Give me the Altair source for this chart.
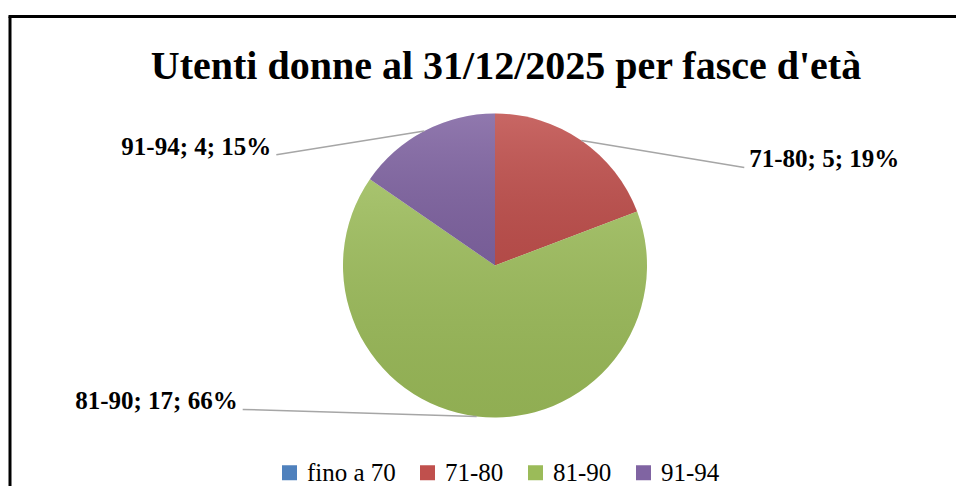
import altair as alt
import pandas as pd

# ---- data ----
categories = ["fino a 70", "71-80", "81-90", "91-94"]
values = [0, 5, 17, 4]
percents = [0, 19, 66, 15]
colors = ["#4F81BD", "#C0504D", "#9BBB59", "#8064A2"]
title_text = "Utenti donne al 31/12/2025 per fasce d'età"

# ---- layout ----
W, H = 948, 478
CX, CY, R = 487, 257.5, 152
FONT = "Liberation Serif"

df = pd.DataFrame({
    "cat": categories,
    "value": values,
    "pct": percents,
    "idx": list(range(len(categories))),
})
df["label"] = [f"{c}; {v}; {p}%" for c, v, p in zip(categories, values, percents)]

xs = alt.Scale(domain=[-CX / R, (W - CX) / R], nice=False, zero=False)
ys = alt.Scale(domain=[-(H - CY) / R, CY / R], nice=False, zero=False)

base = (
    alt.Chart(df)
    .transform_window(cum="sum(value)", sort=[alt.SortField("idx")], frame=[None, 0])
    .transform_joinaggregate(total="sum(value)")
    .transform_calculate(
        a0="2*PI*(datum.cum - datum.value)/datum.total",
        a1="2*PI*datum.cum/datum.total",
        zero="0",
    )
    .transform_calculate(am="(datum.a0 + datum.a1)/2")
    .transform_calculate(ex="sin(datum.am)", ey="cos(datum.am)")
    .transform_calculate(
        lx="(datum.ex < 0 ? -1.66 + 0.25*max(datum.ey, 0) : 1.64)",
        ly="datum.ey - 0.38*datum.ey*abs(datum.ex)",
    )
)

pie = base.mark_arc(radius=R).encode(
    x=alt.X("zero:Q", scale=xs, axis=None),
    y=alt.Y("zero:Q", scale=ys, axis=None),
    theta=alt.Theta("a0:Q", scale=None),
    theta2="a1:Q",
    color=alt.Color(
        "cat:N",
        scale=alt.Scale(domain=categories, range=colors),
        title=None,
        legend=alt.Legend(
            orient="none",
            direction="horizontal",
            legendX=269,
            legendY=452,
            symbolType="square",
            symbolSize=225,
            symbolStrokeWidth=0,
            labelFont=FONT,
            labelFontSize=25,
            labelColor="black",
            labelOffset=5,
            columnPadding=19,
            padding=0,
        ),
    ),
)

shade = base.mark_arc(
    radius=R,
    fill=alt.LinearGradient(
        gradient="linear",
        x1=0, y1=0, x2=0, y2=1,
        stops=[
            alt.GradientStop(offset=0, color="rgba(255,255,255,0.13)"),
            alt.GradientStop(offset=1, color="rgba(0,0,0,0.07)"),
        ],
    ),
).encode(
    x=alt.X("zero:Q", scale=xs, axis=None),
    y=alt.Y("zero:Q", scale=ys, axis=None),
    theta=alt.Theta("a0:Q", scale=None),
    theta2="a1:Q",
)

shown = base.transform_filter("datum.value > 0")

leaders = shown.mark_rule(color="#A6A6A6", strokeWidth=1.5).encode(
    x=alt.X("ex:Q", scale=xs, axis=None),
    y=alt.Y("ey:Q", scale=ys, axis=None),
    x2="lx:Q",
    y2="ly:Q",
)

text_style = dict(font=FONT, fontSize=25, fontWeight="bold", color="black", baseline="alphabetic")

labels_left = shown.transform_filter("datum.ex < 0").mark_text(align="right", dx=-5, **text_style).encode(
    x=alt.X("lx:Q", scale=xs, axis=None),
    y=alt.Y("ly:Q", scale=ys, axis=None),
    text="label:N",
)
labels_right = shown.transform_filter("datum.ex >= 0").mark_text(align="left", dx=5, **text_style).encode(
    x=alt.X("lx:Q", scale=xs, axis=None),
    y=alt.Y("ly:Q", scale=ys, axis=None),
    text="label:N",
)

frame_df = pd.DataFrame({"k": [0]})
frame_left = alt.Chart(frame_df).mark_rule(color="black", strokeWidth=3).encode(
    x=alt.value(2), y=alt.value(8.5), y2=alt.value(H + 30)
)
frame_top = alt.Chart(frame_df).mark_rule(color="black", strokeWidth=3).encode(
    x=alt.value(0.5), x2=alt.value(W + 30), y=alt.value(8.5)
)

chart = (
    alt.layer(frame_left, frame_top, pie, shade, leaders, labels_left, labels_right)
    .properties(
        width=W,
        height=H,
        padding=0,
        autosize=alt.AutoSizeParams(type="none"),
        title=alt.TitleParams(
            text=title_text,
            font=FONT,
            fontSize=40,
            fontWeight="bold",
            color="black",
            anchor="middle",
            frame="group",
            baseline="alphabetic",
            offset=-111,
            dx=24,
        ),
    )
    .configure_view(strokeWidth=0)
)

chart.save("out.html", embed_options={"renderer": "svg", "actions": False})
